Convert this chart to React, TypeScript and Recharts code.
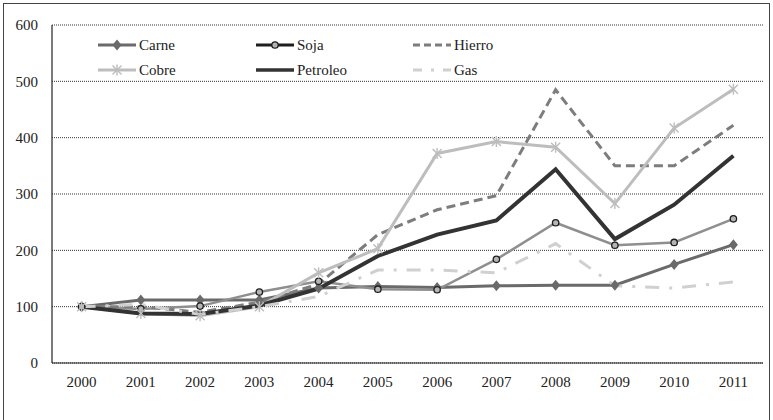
import { LineChart, Line, XAxis, YAxis, CartesianGrid } from "recharts";

const years = ["2000", "2001", "2002", "2003", "2004", "2005", "2006", "2007", "2008", "2009", "2010", "2011"];
const carne = [100, 112, 112, 112, 133, 136, 134, 137, 138, 138, 175, 210];
const soja = [100, 96, 101, 126, 145, 131, 130, 184, 249, 209, 214, 256];
const hierro = [100, 100, 90, 108, 140, 228, 272, 297, 485, 350, 350, 422];
const cobre = [100, 88, 84, 100, 160, 203, 372, 393, 383, 283, 417, 486];
const petroleo = [100, 88, 87, 102, 132, 190, 228, 253, 344, 220, 281, 368];
const gas = [100, 104, 86, 100, 118, 165, 165, 160, 212, 137, 133, 144];
const yTicks = [0, 100, 200, 300, 400, 500, 600];

const FONT = "Liberation Serif, Times New Roman, DejaVu Serif, serif";

const rows = years.map((year, i) => ({
  year,
  Carne: carne[i],
  Soja: soja[i],
  Hierro: hierro[i],
  Cobre: cobre[i],
  Petroleo: petroleo[i],
  Gas: gas[i],
}));

const Diamond = (props: any) => {
  const { cx, cy } = props;
  if (cx == null || cy == null) return null;
  return (
    <path
      d={`M${cx},${cy - 5.5} L${cx + 4.5},${cy} L${cx},${cy + 5.5} L${cx - 4.5},${cy} Z`}
      fill="#6a6a6a"
    />
  );
};

const Ring = (props: any) => {
  const { cx, cy } = props;
  if (cx == null || cy == null) return null;
  return <circle cx={cx} cy={cy} r={3.2} fill="#b5b5b5" stroke="#1e1e1e" strokeWidth={1.3} />;
};

const Star = (props: any) => {
  const { cx, cy } = props;
  if (cx == null || cy == null) return null;
  const r = 4.5;
  return (
    <g stroke="#bdbdbd" strokeWidth={1.4}>
      <line x1={cx - r} y1={cy - r} x2={cx + r} y2={cy + r} />
      <line x1={cx - r} y1={cy + r} x2={cx + r} y2={cy - r} />
      <line x1={cx} y1={cy - r - 1} x2={cx} y2={cy + r + 1} />
    </g>
  );
};

// legend layout: 3 columns x 2 rows, sits inside the plot
const legendItems = [
  { name: "Carne", x: 98, y: 45, stroke: "#6a6a6a", width: 3, dash: undefined, mark: "diamond" },
  { name: "Soja", x: 256, y: 45, stroke: "#1e1e1e", width: 3, dash: undefined, mark: "ring" },
  { name: "Hierro", x: 413, y: 45, stroke: "#7d7d7d", width: 3, dash: "7 4", mark: "" },
  { name: "Cobre", x: 98, y: 70, stroke: "#bdbdbd", width: 3, dash: undefined, mark: "star" },
  { name: "Petroleo", x: 256, y: 70, stroke: "#333333", width: 3.5, dash: undefined, mark: "" },
  { name: "Gas", x: 413, y: 70, stroke: "#d0d0d0", width: 3, dash: "9 9 3 9", mark: "" },
];

function ChartLegend() {
  return (
    <svg width={773} height={100} style={{ position: "absolute", left: 0, top: 0, pointerEvents: "none" }}>
      {legendItems.map((it) => {
        const x2 = it.x + 38;
        const mid = it.x + 19;
        return (
          <g key={it.name}>
            <line
              x1={it.x}
              y1={it.y}
              x2={x2}
              y2={it.y}
              stroke={it.stroke}
              strokeWidth={it.width}
              strokeDasharray={it.dash}
            />
            {it.mark === "diamond" && <Diamond cx={mid} cy={it.y} />}
            {it.mark === "ring" && <Ring cx={mid} cy={it.y} />}
            {it.mark === "star" && <Star cx={mid} cy={it.y} />}
            <text x={x2 + 3} y={it.y + 5} style={{ fontFamily: FONT }} fontSize={15} fill="#222">
              {it.name}
            </text>
          </g>
        );
      })}
    </svg>
  );
}

export default function App() {
  return (
    <div
      style={{
        position: "absolute",
        left: 0,
        top: 0,
        width: 773,
        height: 420,
        background: "#fff",
        fontFamily: FONT,
      }}
    >
      <div
        style={{
          position: "absolute",
          left: 3,
          top: 3,
          width: 767,
          height: 420,
          border: "1px solid #444",
          boxSizing: "border-box",
        }}
      />
      <LineChart
        width={773}
        height={420}
        data={rows}
        margin={{ top: 25, right: 10, bottom: 27, left: 0 }}
        style={{ position: "absolute", left: 0, top: 0, fontFamily: FONT }}
      >
        <CartesianGrid vertical={false} stroke="#333" strokeDasharray="1 1" />
        <XAxis
          dataKey="year"
          height={30}
          padding={{ left: 29.6, right: 29.6 }}
          tickLine={false}
          axisLine={{ stroke: "#222", strokeWidth: 1.2 }}
          tick={{ fontSize: 15, fill: "#222", style: { fontFamily: FONT } }}
          tickMargin={7}
        />
        <YAxis
          width={52}
          domain={[0, 600]}
          ticks={yTicks}
          tickLine={false}
          axisLine={{ stroke: "#222", strokeWidth: 1.2 }}
          tick={{ fontSize: 15, fill: "#222", style: { fontFamily: FONT } }}
          tickMargin={8}
        />
        <YAxis
          yAxisId="frame"
          orientation="right"
          width={0}
          domain={[0, 600]}
          tick={false}
          tickLine={false}
          axisLine={{ stroke: "#222", strokeWidth: 1.2 }}
        />
        <Line type="linear" dataKey="Carne" stroke="#6a6a6a" strokeWidth={3} dot={<Diamond />} activeDot={false} isAnimationActive={false} />
        <Line type="linear" dataKey="Soja" stroke="#8f8f8f" strokeWidth={2.5} dot={<Ring />} activeDot={false} isAnimationActive={false} />
        <Line type="linear" dataKey="Hierro" stroke="#7d7d7d" strokeWidth={3} strokeDasharray="9 5" dot={false} activeDot={false} isAnimationActive={false} />
        <Line type="linear" dataKey="Cobre" stroke="#bdbdbd" strokeWidth={3} dot={<Star />} activeDot={false} isAnimationActive={false} />
        <Line type="linear" dataKey="Petroleo" stroke="#333333" strokeWidth={4} dot={false} activeDot={false} isAnimationActive={false} />
        <Line type="linear" dataKey="Gas" stroke="#d0d0d0" strokeWidth={3} strokeDasharray="14 10 3 10" dot={false} activeDot={false} isAnimationActive={false} />
      </LineChart>
      <ChartLegend />
    </div>
  );
}
